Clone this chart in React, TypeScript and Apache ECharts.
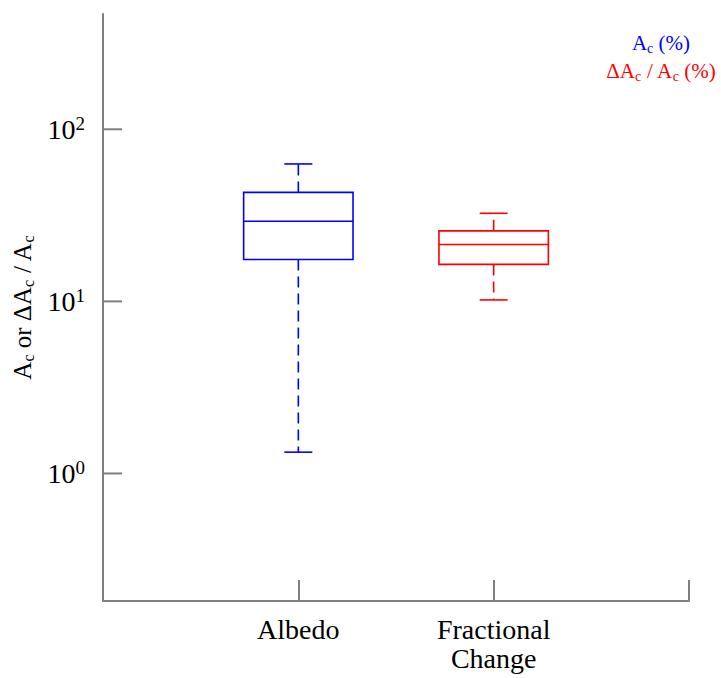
import React, { useEffect, useRef } from "react";
import * as echarts from "echarts";

// ---- data ----
const categories = ["Albedo", "Fractional\nChange"];
// [lower whisker, Q1, median, Q3, upper whisker] in percent
const albedoStats = [1.33, 17.5, 29.2, 43.0, 62.9];
const fractionalStats = [10.2, 16.4, 21.4, 25.7, 32.5];
const seriesNames = ["Ac (%)", "ΔAc / Ac (%)"];
const seriesColors = ["#0000ff", "#ff0000"];
const yTickExponents = [0, 1, 2];
const yMinLog = -0.741;
const yMaxLog = 2.67;

const FONT = "'Liberation Serif', 'Times New Roman', serif";
const AXIS_COLOR = "#7f7f7f";

function renderBox(color: string) {
  return (params: any, api: any) => {
    const x = api.value(0);
    const lo = api.coord([x, api.value(1)]);
    const q1 = api.coord([x, api.value(2)]);
    const med = api.coord([x, api.value(3)]);
    const q3 = api.coord([x, api.value(4)]);
    const hi = api.coord([x, api.value(5)]);
    const cx = lo[0];
    const bw = api.size([1, 0])[0] * 0.56;
    const cw = 28;
    const solid = { stroke: color, lineWidth: 1.6, fill: "none" };
    const dashed = { stroke: color, lineWidth: 1.6, lineDash: [11, 6] };
    return {
      type: "group",
      children: [
        { type: "line", shape: { x1: cx, y1: q3[1], x2: cx, y2: hi[1] }, style: dashed },
        { type: "line", shape: { x1: cx, y1: q1[1], x2: cx, y2: lo[1] }, style: dashed },
        { type: "line", shape: { x1: cx - cw / 2, y1: hi[1], x2: cx + cw / 2, y2: hi[1] }, style: solid },
        { type: "line", shape: { x1: cx - cw / 2, y1: lo[1], x2: cx + cw / 2, y2: lo[1] }, style: solid },
        {
          type: "rect",
          shape: { x: cx - bw / 2, y: q3[1], width: bw, height: q1[1] - q3[1] },
          style: solid,
        },
        { type: "line", shape: { x1: cx - bw / 2, y1: med[1], x2: cx + bw / 2, y2: med[1] }, style: solid },
      ],
    };
  };
}

// inward y-axis ticks at the decades
function renderYTick(params: any, api: any) {
  const p = api.coord([0, api.value(0)]);
  return {
    type: "line",
    shape: { x1: p[0], y1: p[1], x2: p[0] + 19, y2: p[1] },
    style: { stroke: AXIS_COLOR, lineWidth: 2 },
  };
}

export default function App() {
  const ref = useRef<HTMLDivElement>(null);
  useEffect(() => {
    if (!ref.current) return;
    const chart = echarts.init(ref.current, null, { renderer: "svg" });
    const allStats = [albedoStats, fractionalStats];
    const option: any = {
      animation: false,
      backgroundColor: "#ffffff",
      textStyle: { fontFamily: FONT },
      grid: { left: 103, right: 32, top: 14, bottom: 77, outerBoundsMode: "none" },
      xAxis: {
        type: "value",
        min: 0,
        max: categories.length + 1,
        interval: 1,
        splitLine: { show: false },
        axisLine: { onZero: false, lineStyle: { color: AXIS_COLOR, width: 2 } },
        axisTick: { inside: true, length: 21, lineStyle: { color: AXIS_COLOR, width: 2 } },
        axisLabel: {
          margin: 14,
          color: "#000",
          fontFamily: FONT,
          fontSize: 28,
          lineHeight: 29,
          align: "center",
          verticalAlign: "top",
          formatter: (v: number) => {
            const i = Math.round(v) - 1;
            return i >= 0 && i < categories.length ? categories[i] : "";
          },
        },
      },
      yAxis: {
        type: "value",
        min: yMinLog,
        max: yMaxLog,
        splitLine: { show: false },
        axisLine: { show: true, onZero: false, lineStyle: { color: AXIS_COLOR, width: 2 } },
        axisTick: { show: false },
        axisLabel: {
          margin: 18,
          customValues: yTickExponents,
          color: "#000",
          fontFamily: FONT,
          formatter: (v: number) => `{b|10}{s|${Math.round(v)}}`,
          rich: {
            b: { fontSize: 28, fontFamily: FONT, color: "#000" },
            s: { fontSize: 19, fontFamily: FONT, color: "#000", padding: [0, 0, 11, 0] },
          },
        },
        name: "{a|A}{s|c}{a| or ΔA}{s|c}{a| / A}{s|c}",
        nameLocation: "middle",
        nameRotate: 90,
        nameGap: 66,
        nameTextStyle: {
          fontFamily: FONT,
          color: "#000",
          rich: {
            a: { fontSize: 25, fontFamily: FONT, color: "#000" },
            s: { fontSize: 16, fontFamily: FONT, color: "#000", padding: [13, 0, 0, 0] },
          },
        },
      },
      series: [
        ...allStats.map((st, i) => ({
          type: "custom",
          name: seriesNames[i],
          renderItem: renderBox(seriesColors[i]),
          encode: { x: 0, y: [1, 2, 3, 4, 5] },
          data: [[i + 1, ...st.map((v) => Math.log10(v))]],
        })),
        {
          type: "custom",
          name: "yTicks",
          silent: true,
          renderItem: renderYTick,
          encode: { y: 0 },
          data: yTickExponents.map((e) => [e]),
        },
      ],
      graphic: [
        {
          type: "text",
          x: 661,
          y: 43,
          style: {
            text: "{a|A}{s|c}{a| (%)}",
            align: "center",
            verticalAlign: "middle",
            fill: seriesColors[0],
            rich: {
              a: { fontSize: 21, fontFamily: FONT, fill: seriesColors[0] },
              s: { fontSize: 14, fontFamily: FONT, fill: seriesColors[0], padding: [11, 0, 0, 0] },
            },
          },
        },
        {
          type: "text",
          x: 661,
          y: 71,
          style: {
            text: "{a|ΔA}{s|c}{a| / A}{s|c}{a| (%)}",
            align: "center",
            verticalAlign: "middle",
            fill: seriesColors[1],
            rich: {
              a: { fontSize: 21, fontFamily: FONT, fill: seriesColors[1] },
              s: { fontSize: 14, fontFamily: FONT, fill: seriesColors[1], padding: [11, 0, 0, 0] },
            },
          },
        },
      ],
    };
    chart.setOption(option);
    return () => chart.dispose();
  }, []);
  return (
    <div
      ref={ref}
      style={{ position: "fixed", left: 0, top: 0, width: 721, height: 678, background: "#fff" }}
    />
  );
}
